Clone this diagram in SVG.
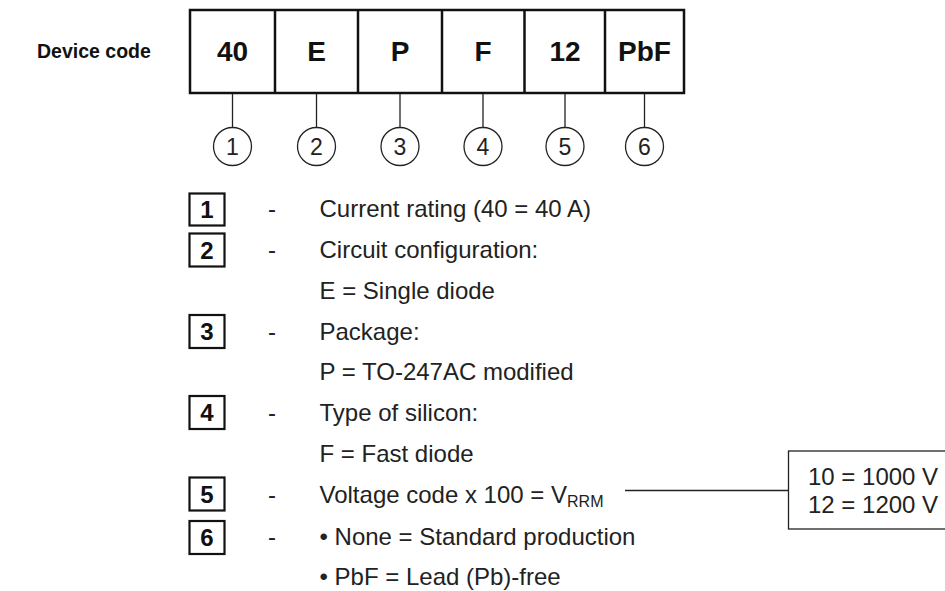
<svg xmlns="http://www.w3.org/2000/svg" width="945" height="591" viewBox="0 0 945 591">
<style>
.b{font-family:"Liberation Sans",Arial,sans-serif;font-weight:bold;fill:#111}
.t{font-family:"Liberation Sans",Arial,sans-serif;fill:#222;font-size:24px}
.cell{font-size:28px;text-anchor:middle}
.num{font-family:"Liberation Sans",Arial,sans-serif;fill:#222;font-size:23px;text-anchor:middle}
.lb{font-size:24px;text-anchor:middle}
.thick{fill:none;stroke:#111;stroke-width:2.5}
.thin{fill:none;stroke:#222;stroke-width:1.3}
.sq{fill:#fff;stroke:#111;stroke-width:2.2}
</style>
<text class="b" x="37" y="58" font-size="19.5">Device code</text>
<g id="code">
<rect class="thick" x="190" y="10" width="494" height="83"/>
<line class="thick" x1="275" y1="10" x2="275" y2="93"/>
<line class="thick" x1="358" y1="10" x2="358" y2="93"/>
<line class="thick" x1="442" y1="10" x2="442" y2="93"/>
<line class="thick" x1="524.5" y1="10" x2="524.5" y2="93"/>
<line class="thick" x1="605" y1="10" x2="605" y2="93"/>
<text class="b cell" x="232.5" y="61">40</text>
<text class="b cell" x="316.5" y="61">E</text>
<text class="b cell" x="400" y="61">P</text>
<text class="b cell" x="483" y="61">F</text>
<text class="b cell" x="565" y="61">12</text>
<text class="b cell" x="644.5" y="61">PbF</text>
</g>
<g id="connectors">
<line class="thin" x1="232.5" y1="94" x2="232.5" y2="127.5"/>
<line class="thin" x1="316.5" y1="94" x2="316.5" y2="127.5"/>
<line class="thin" x1="400" y1="94" x2="400" y2="127.5"/>
<line class="thin" x1="483" y1="94" x2="483" y2="127.5"/>
<line class="thin" x1="565" y1="94" x2="565" y2="127.5"/>
<line class="thin" x1="644.5" y1="94" x2="644.5" y2="127.5"/>
<line class="thin" x1="625" y1="490.5" x2="788.5" y2="490.5"/>
</g>
<g id="c1"><circle class="thin" cx="232.5" cy="146.5" r="19"/><text class="num" x="232.5" y="155">1</text></g>
<g id="c2"><circle class="thin" cx="316.5" cy="146.5" r="19"/><text class="num" x="316.5" y="155">2</text></g>
<g id="c3"><circle class="thin" cx="400" cy="146.5" r="19"/><text class="num" x="400" y="155">3</text></g>
<g id="c4"><circle class="thin" cx="483" cy="146.5" r="19"/><text class="num" x="483" y="155">4</text></g>
<g id="c5"><circle class="thin" cx="565" cy="146.5" r="19"/><text class="num" x="565" y="155">5</text></g>
<g id="c6"><circle class="thin" cx="644.5" cy="146.5" r="19"/><text class="num" x="644.5" y="155">6</text></g>
<g id="l1"><rect class="sq" x="189.5" y="193.5" width="35" height="32"/><text class="b lb" x="207" y="218">1</text><text class="t" x="268" y="216.5">-</text><text class="t" x="319.5" y="216.5">Current rating (40 = 40 A)</text></g>
<g id="l2"><rect class="sq" x="189.5" y="233.5" width="35" height="33"/><text class="b lb" x="207" y="258.5">2</text><text class="t" x="268" y="257.5">-</text><text class="t" x="319.5" y="257.5">Circuit configuration:</text><text class="t" x="319.5" y="299">E = Single diode</text></g>
<g id="l3"><rect class="sq" x="189.5" y="315" width="35" height="33"/><text class="b lb" x="207" y="340">3</text><text class="t" x="268" y="339.5">-</text><text class="t" x="319.5" y="339.5">Package:</text><text class="t" x="319.5" y="380">P = TO-247AC modified</text></g>
<g id="l4"><rect class="sq" x="189.5" y="396" width="35" height="33"/><text class="b lb" x="207" y="421">4</text><text class="t" x="268" y="421">-</text><text class="t" x="319.5" y="421">Type of silicon:</text><text class="t" x="319.5" y="461.5">F = Fast diode</text></g>
<g id="l5"><rect class="sq" x="189.5" y="477.5" width="35" height="33"/><text class="b lb" x="207" y="502.5">5</text><text class="t" x="268" y="502.5">-</text><text class="t" x="319.5" y="502.5">Voltage code x 100 = V<tspan font-size="16" dy="4">RRM</tspan></text></g>
<g id="l6"><rect class="sq" x="189.5" y="521" width="35" height="33"/><text class="b lb" x="207" y="546">6</text><text class="t" x="268" y="545">-</text><text class="t" x="319.5" y="545">• None = Standard production</text><text class="t" x="319.5" y="585">• PbF = Lead (Pb)-free</text></g>
<g id="vbox"><rect class="thin" x="788.5" y="451" width="200" height="78"/><text class="t" x="808" y="484.5" font-size="22.5">10 = 1000 V</text><text class="t" x="808" y="512.5" font-size="22.5">12 = 1200 V</text></g>
</svg>
